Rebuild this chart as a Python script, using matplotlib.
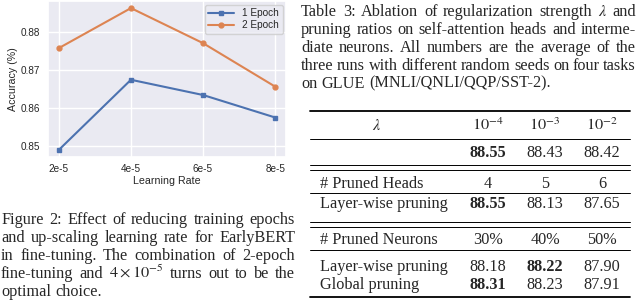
import numpy as np
import matplotlib
matplotlib.use('Agg')
import matplotlib.pyplot as plt
from matplotlib.lines import Line2D
import seaborn as sns

sns.set_theme(style='darkgrid')
plt.rcParams['font.family'] = ['Liberation Sans', 'DejaVu Sans']
plt.rcParams['mathtext.fontset'] = 'stix'

W, H = 640, 301
SERIF = ['Liberation Serif', 'DejaVu Serif']
FS = 11.7

## chart data
lr_vals = [2e-5, 4e-5, 6e-5, 8e-5]
lr_labels = ['2e-5', '4e-5', '6e-5', '8e-5']
acc_1ep = [0.8490, 0.8674, 0.8634, 0.8575]
acc_2ep = [0.8757, 0.8862, 0.8770, 0.8656]
acc_ticks = [0.85, 0.86, 0.87, 0.88]

## captions
fig_caption = [
	'Figure 2: Effect of reducing training epochs',
	'and up-scaling learning rate for EarlyBERT',
	'in fine-tuning.  The combination of 2-epoch',
	r'fine-tuning and $4\times10^{-5}$ turns out to be the',
	'optimal choice.',
]
tab_caption = [
	r'Table 3:  Ablation of regularization strength $\lambda$ and',
	'pruning ratios on self-attention heads and interme-',
	'diate neurons.  All numbers are the average of the',
	'three runs with different random seeds on four tasks',
	'on GLUE (MNLI/QNLI/QQP/SST-2).',
]

## table data
lam_labels = [r'$10^{-4}$', r'$10^{-3}$', r'$10^{-2}$']
lam_acc = [88.55, 88.43, 88.42]
heads = ['4', '5', '6']
heads_layer = [88.55, 88.13, 87.65]
neurons = ['30%', '40%', '50%']
neurons_layer = [88.18, 88.22, 87.90]
neurons_global = [88.31, 88.23, 87.91]


def fx(x):
	return x / W

def fy(y):
	return 1 - y / H


fig = plt.figure(figsize=(6.4, 3.01), dpi=100)
fig.patch.set_facecolor('white')

## Line chart
ax = fig.add_axes([fx(48), fy(157), (286 - 48) / W, (157 - 1) / H])
ax.plot(lr_vals, acc_1ep, marker='s', ms=3.5, lw=1.5, color='#4C72B0', label='1 Epoch')
ax.plot(lr_vals, acc_2ep, marker='o', ms=3.5, lw=1.5, color='#DD8452', label='2 Epoch')
ax.set_xticks(lr_vals)
ax.set_xticklabels(lr_labels)
ax.set_yticks(acc_ticks)
ax.set_yticklabels(['%.2f' % v for v in acc_ticks])
ax.tick_params(axis='both', length=0)
ax.tick_params(axis='x', labelsize=7.2, pad=5)
ax.tick_params(axis='y', labelsize=7.2, pad=5.5)
ax.set_xlabel('Learning Rate', fontsize=7.7)
ax.set_ylabel('Accuracy (%)', fontsize=7.7)
ax.xaxis.set_label_coords(0.5, -0.12)
ax.yaxis.set_label_coords(-0.125, 0.5)
ax.legend(loc='upper right', fontsize=7.2, handlelength=2.6, borderpad=0.35,
          labelspacing=0.2, handletextpad=0.8, borderaxespad=0.35)

renderer = fig.canvas.get_renderer()

def put_line(words, x0, x1, y, justify):
	texts = [fig.text(0, 0, w, fontsize=FS, family=SERIF, va='baseline') for w in words]
	widths = [t.get_window_extent(renderer).width for t in texts]
	if justify and len(words) > 1:
		gap = (x1 - x0 - sum(widths)) / (len(words) - 1)
	else:
		gap = 0.25 * FS * 100 / 72
	x = x0
	for t, wd in zip(texts, widths):
		t.set_position((fx(x), fy(y)))
		x += wd + gap

def put_par(lines, x0, x1, y0, step):
	for i, line in enumerate(lines):
		words = line.split()
		put_line(words, x0, x1, y0 + i * step, i < len(lines) - 1)

put_par(fig_caption, 1, 295, 224.3, 17.9)
put_par(tab_caption, 301, 636, 16, 17.9)

## Table
def rule(y, lw=0.7):
	fig.add_artist(Line2D([fx(310), fx(630)], [fy(y), fy(y)], transform=fig.transFigure,
	                      lw=lw, color='black'))

cols = [488, 545, 602]

def cell(x, y, s, bold=False, ha='center'):
	fig.text(fx(x), fy(y), s, fontsize=FS, family=SERIF, ha=ha, va='baseline',
	         weight='bold' if bold else 'normal')

def num_row(label, vals, y):
	if label:
		cell(320, y, label, ha='left')
	best = max(vals)
	for x, v in zip(cols, vals):
		cell(x, y, '%.2f' % v, bold=(v == best))

def lab_row(label, labs, y):
	cell(320, y, label, ha='left')
	for x, s in zip(cols, labs):
		cell(x, y, s)

rule(111.5, 1.3)
cell(377, 130, r'$\lambda$')
for x, s in zip(cols, lam_labels):
	cell(x, 130, s)
rule(139)
num_row('', lam_acc, 157)
rule(165)
rule(170)
lab_row('# Pruned Heads', heads, 188)
rule(193)
num_row('Layer-wise pruning', heads_layer, 208)
rule(222)
rule(227)
lab_row('# Pruned Neurons', neurons, 244)
rule(250)
num_row('Layer-wise pruning', neurons_layer, 271)
num_row('Global pruning', neurons_global, 289)
rule(297, 1.3)

fig.savefig('out.png', dpi=100)
